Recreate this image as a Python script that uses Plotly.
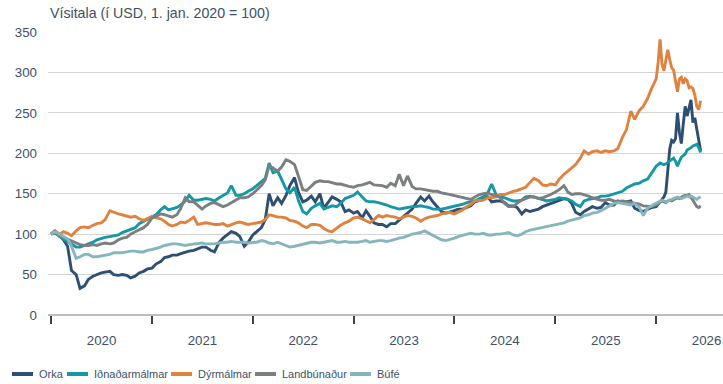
import pandas as pd
import plotly.graph_objects as go

# Semi-monthly observations 2020-2025, weekly observations in 2026
dates = list(pd.date_range("2020-01-01", "2025-12-15", freq="SMS")) + \
    list(pd.date_range("2026-01-01", periods=24, freq="7D"))

orka = [
    100, 104, 98, 93, 85, 55, 50, 33, 36, 44, 48, 50, 52, 53, 54, 50, 49, 50, 49, 46, 48, 52, 54, 57,
    58, 63, 66, 71, 72, 74, 74, 76, 78, 79, 80, 82, 84, 84, 80, 78, 90, 95, 99, 103, 101, 97, 85, 90,
    99, 103, 108, 118, 150, 135, 145, 138, 148, 160, 170, 152, 140, 142, 147, 140, 150, 132, 140, 146, 143, 140, 128, 130,
    126, 128, 120, 129, 122, 114, 112, 112, 109, 113, 113, 117, 121, 126, 131, 138, 146, 141, 147, 140, 134, 128, 126, 127,
    129, 131, 131, 133, 135, 140, 142, 143, 146, 140, 141, 141, 139, 135, 135, 133, 125, 130, 128, 129, 131, 134, 136, 138,
    140, 142, 144, 143, 138, 127, 124, 128, 131, 134, 132, 133, 139, 136, 136, 141, 139, 140, 141, 132, 129, 128, 131, 133,
    134, 137, 140, 143, 146, 152, 178, 205, 216, 214, 218, 250, 226, 212, 236, 258, 246, 258, 266, 238, 244, 230, 215, 203,
]

idnadarmalmar = [
    100, 102, 97, 94, 91, 87, 84, 84, 86, 88, 90, 93, 95, 96, 97, 98, 99, 102, 104, 106, 108, 113, 116, 119,
    122, 124, 130, 134, 130, 131, 133, 136, 141, 148, 142, 142, 143, 144, 143, 141, 145, 148, 151, 160, 148, 148, 150, 153,
    156, 160, 165, 169, 188, 176, 178, 168, 156, 151, 158, 142, 128, 125, 132, 135, 138, 131, 133, 135, 134, 138, 144, 146,
    148, 152, 146, 141, 140, 140, 139, 138, 136, 134, 132, 131, 132, 133, 134, 134, 135, 134, 133, 131, 131, 131, 132, 133,
    135, 136, 137, 139, 140, 141, 144, 146, 151, 162, 148, 147, 145, 143, 141, 141, 142, 146, 147, 146, 144, 142, 141, 142,
    143, 145, 144, 143, 141, 137, 134, 141, 143, 144, 145, 147, 147, 148, 150, 151, 153, 157, 160, 162, 163, 166, 168, 176,
    184, 186, 188, 187, 186, 187, 189, 190, 192, 194, 190, 184, 190, 195, 197, 199, 204, 205, 207, 209, 210, 211, 207, 201,
]

dyrmalmar = [
    100, 104, 100, 103, 101, 98, 104, 108, 109, 108, 111, 113, 114, 118, 129, 127, 125, 124, 122, 121, 122, 119, 117, 119,
    122, 120, 119, 116, 112, 110, 112, 115, 114, 117, 121, 112, 113, 114, 113, 112, 112, 113, 110, 112, 114, 115, 113, 112,
    113, 114, 115, 118, 124, 123, 121, 121, 120, 117, 116, 114, 110, 108, 112, 112, 111, 107, 104, 103, 108, 111, 114, 116,
    120, 121, 119, 116, 114, 118, 123, 121, 123, 122, 121, 119, 121, 123, 122, 120, 116, 119, 121, 122, 123, 125, 126, 127,
    125, 127, 130, 134, 137, 141, 142, 142, 145, 145, 146, 149, 149, 151, 153, 154, 156, 158, 164, 169, 166, 161, 160, 162,
    161, 168, 174, 178, 182, 186, 194, 203, 199, 202, 203, 201, 203, 202, 203, 206, 220, 229, 252, 242, 253, 258, 268, 280,
    292, 312, 341, 310, 302, 314, 328, 316, 306, 303, 288, 276, 292, 294, 286, 292, 290, 281, 282, 280, 272, 258, 254, 265,
]

landbunadur = [
    100, 101, 98, 96, 94, 91, 89, 87, 86, 86, 87, 86, 88, 89, 88, 89, 93, 95, 96, 100, 103, 105, 108, 112,
    120, 122, 125, 124, 122, 121, 124, 132, 145, 140, 140, 136, 131, 135, 138, 139, 136, 134, 136, 139, 142, 145, 145, 146,
    150, 154, 160, 167, 185, 182, 178, 183, 192, 190, 186, 172, 155, 154, 159, 164, 166, 165, 165, 164, 162, 162, 160, 159,
    158, 160, 161, 163, 164, 161, 160, 160, 158, 163, 160, 174, 160, 172, 159, 156, 156, 155, 154, 153, 153, 151, 150, 149,
    147, 146, 145, 144, 143, 146, 149, 150, 151, 149, 148, 145, 138, 134, 134, 138, 142, 144, 146, 146, 144, 145, 147, 149,
    152, 155, 160, 152, 149, 150, 150, 149, 147, 145, 143, 142, 142, 143, 141, 140, 141, 140, 139, 138, 137, 135, 134, 134,
    136, 138, 140, 141, 140, 139, 141, 142, 141, 142, 143, 145, 144, 146, 147, 148, 148, 149, 146, 142, 138, 134, 133, 135,
]

bufe = [
    100, 103, 100, 97, 94, 85, 70, 72, 75, 75, 72, 72, 73, 74, 75, 77, 77, 77, 78, 79, 79, 78, 78, 80,
    81, 82, 84, 86, 87, 88, 88, 87, 86, 87, 88, 88, 89, 88, 88, 88, 89, 90, 90, 91, 90, 90, 90, 89,
    90, 90, 92, 91, 89, 88, 90, 88, 86, 84, 85, 86, 87, 88, 90, 90, 89, 90, 91, 92, 90, 90, 91, 90,
    90, 90, 91, 92, 90, 91, 92, 92, 91, 92, 94, 95, 96, 98, 100, 101, 102, 104, 101, 99, 96, 93, 92, 93,
    95, 97, 99, 100, 101, 100, 100, 101, 99, 99, 100, 100, 101, 102, 99, 98, 100, 103, 105, 106, 107, 108, 110, 111,
    112, 113, 114, 116, 117, 118, 120, 123, 124, 126, 127, 129, 132, 135, 138, 139, 138, 137, 136, 138, 133, 123, 132, 135,
    138, 139, 141, 142, 141, 140, 141, 142, 143, 144, 146, 146, 145, 144, 145, 146, 147, 146, 147, 146, 144, 143, 145, 146,
]

series_names = ["Orka", "Iðnaðarmálmar", "Dýrmálmar", "Landbúnaður", "Búfé"]
series_values = [orka, idnadarmalmar, dyrmalmar, landbunadur, bufe]
colors = ["#2d4f73", "#1597a5", "#e0823f", "#7b7f80", "#86b6bd"]

TXT = "#3c4f66"
FONT = "Liberation Sans, Arial, sans-serif"

W, H = 723, 384
L, R, T, B = 48, 0, 32, 69

fig = go.Figure()
for name, vals, col in zip(series_names, series_values, colors):
    fig.add_trace(go.Scatter(x=dates, y=vals, name=name, mode="lines",
                             line=dict(color=col, width=2.9)))


def px_x(px):
    return (px - L) / (W - L - R)


def px_y(py):
    return (H - B - py) / (H - B - T)


# Legend drawn below the axis: short thick line + label
legend_pos = [(12, 37), (67, 92), (171, 196), (255, 280), (350, 375)]
shapes = []
annotations = []
for (lx, tx), name, col in zip(legend_pos, series_names, colors):
    shapes.append(dict(type="line", xref="paper", yref="paper",
                       x0=px_x(lx), x1=px_x(lx + 21), y0=px_y(374), y1=px_y(374),
                       line=dict(color=col, width=4)))
    annotations.append(dict(xref="paper", yref="paper", x=px_x(tx), y=px_y(374),
                            xanchor="left", yanchor="middle", showarrow=False,
                            text=name, font=dict(size=11, color=TXT, family=FONT)))

annotations.append(dict(xref="paper", yref="paper", x=px_x(48), y=px_y(13),
                        xanchor="left", yanchor="middle", showarrow=False,
                        text="Vísitala (í USD, 1. jan. 2020 = 100)",
                        font=dict(size=14.2, color=TXT, family=FONT)))

fig.update_layout(
    width=W, height=H,
    margin=dict(l=L, r=R, t=T, b=B),
    plot_bgcolor="white", paper_bgcolor="white",
    showlegend=False,
    font=dict(family=FONT, size=13.3, color=TXT),
    shapes=shapes, annotations=annotations,
)
fig.update_xaxes(
    type="date", range=["2019-12-21", "2026-08-31"],
    tick0="2020-01-01", dtick="M12", ticklabelmode="period", tickformat="%Y",
    ticks="outside", ticklen=8, tickwidth=1.5, tickcolor="#404040",
    showgrid=False, showline=False, zeroline=False, ticklabelstandoff=5,
    tickfont=dict(size=13.3, color=TXT),
)
fig.update_yaxes(
    range=[0, 350], dtick=50,
    showgrid=True, gridcolor="#d4d4d4", gridwidth=1,
    zeroline=True, zerolinecolor="#bdbdbd", zerolinewidth=1.5,
    ticks="", ticklabelstandoff=10, showline=False,
    tickfont=dict(size=13.3, color=TXT),
)

fig.write_html("out.html")
